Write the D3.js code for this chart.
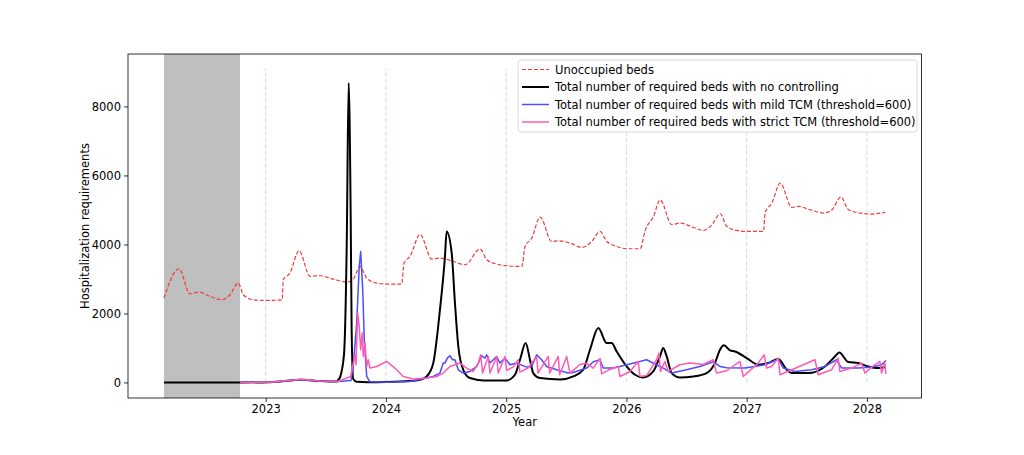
<!DOCTYPE html>
<html>
<head>
<meta charset="utf-8">
<script src="https://cdn.jsdelivr.net/npm/d3@7"></script>
<style>
  html, body { margin: 0; padding: 0; background: #fff; }
  svg { display: block; }
  text { font-family: "DejaVu Sans", sans-serif; }
</style>
</head>
<body>
<svg id="chart" width="1024" height="455"></svg>
<script>
// ---------------- DATA ([decimal year, value]) ----------------
const seriesNames = [
  "Unoccupied beds",
  "Total number of required beds with no controlling",
  "Total number of required beds with mild TCM (threshold=600)",
  "Total number of required beds with strict TCM (threshold=600)"
];
const xTickYears = [2023, 2024, 2025, 2026, 2027, 2028];
const yTickValues = [0, 2000, 4000, 6000, 8000];
const shadedPeriod = [2022.154, 2022.786];
const vlineRange = [0, 9100];

const unoccupied = [
  [2022.154,2446],[2022.279,3296],[2022.370,2571],[2022.445,2620],[2022.537,2493],
  [2022.634,2397],[2022.703,2542],[2022.772,2881],[2022.814,2542],[2022.897,2397],
  [2023.008,2377],[2023.138,2397],[2023.146,2977],[2023.202,3171],[2023.277,3817],
  [2023.369,3072],[2023.438,3101],[2023.562,2997],[2023.674,2910],[2023.729,2997],
  [2023.785,3362],[2023.840,3026],[2023.923,2881],[2024.007,2852],[2024.131,2852],
  [2024.151,3461],[2024.200,3652],[2024.284,4290],[2024.381,3577],[2024.450,3606],
  [2024.561,3507],[2024.658,3412],[2024.783,3867],[2024.839,3557],[2024.922,3432],
  [2025.005,3383],[2025.130,3362],[2025.157,3942],[2025.213,4186],[2025.282,4794],
  [2025.379,4087],[2025.434,4107],[2025.532,4041],[2025.629,3913],[2025.712,4087],
  [2025.781,4377],[2025.837,4087],[2025.920,3942],[2026.003,3875],[2026.114,3875],
  [2026.156,4406],[2026.225,4812],[2026.280,5290],[2026.378,4571],[2026.447,4620],
  [2026.557,4493],[2026.641,4406],[2026.711,4571],[2026.780,4890],[2026.835,4522],
  [2026.918,4406],[2027.002,4377],[2027.140,4377],[2027.154,4928],[2027.210,5200],
  [2027.279,5780],[2027.376,5072],[2027.431,5101],[2027.528,5006],[2027.639,4910],
  [2027.709,5006],[2027.784,5374],[2027.847,5006],[2027.945,4910],[2028.028,4881],
  [2028.152,4928]
];

const noControl = [
  [2022.154,0],[2022.786,0],[2023.036,10],[2023.299,80],[2023.452,40],[2023.590,25],
  [2023.604,78],[2023.618,150],[2023.651,800],[2023.674,4000],[2023.690,8678],
  [2023.707,4800],[2023.715,1500],[2023.728,100],[2023.757,20],[2023.850,10],
  [2024.000,15],[2024.200,40],[2024.283,78],[2024.339,174],[2024.394,562],
  [2024.422,1238],[2024.449,2100],[2024.491,3652],[2024.505,4377],[2024.547,3751],
  [2024.574,2301],[2024.602,1043],[2024.643,368],[2024.699,128],[2024.810,58],
  [2025.004,58],[2025.073,223],[2025.115,658],[2025.162,1142],[2025.198,658],
  [2025.225,272],[2025.281,128],[2025.450,85],[2025.558,174],[2025.641,368],
  [2025.697,948],[2025.766,1577],[2025.836,1142],[2025.877,1142],[2025.919,899],
  [2026.002,464],[2026.071,223],[2026.140,145],[2026.223,319],[2026.279,754],
  [2026.306,997],[2026.335,754],[2026.376,272],[2026.445,145],[2026.556,174],
  [2026.667,272],[2026.736,562],[2026.778,948],[2026.811,1080],[2026.861,930],
  [2026.903,899],[2027.000,707],[2027.096,513],[2027.180,562],[2027.263,678],
  [2027.333,368],[2027.374,272],[2027.512,272],[2027.651,464],[2027.734,754],
  [2027.770,870],[2027.845,591],[2027.928,562],[2028.011,464],[2028.094,417],
  [2028.158,446]
];

const mildTCM = [
  [2022.786,0],[2023.036,10],[2023.299,80],[2023.452,40],[2023.600,30],[2023.710,60],
  [2023.728,464],[2023.757,1722],[2023.778,3362],[2023.790,3797],[2023.807,2687],
  [2023.820,1238],[2023.840,174],[2023.867,20],[2024.000,10],[2024.200,30],
  [2024.394,174],[2024.449,272],[2024.477,562],[2024.491,562],[2024.510,707],
  [2024.532,774],[2024.554,658],[2024.574,658],[2024.602,368],[2024.643,272],
  [2024.699,319],[2024.755,464],[2024.797,774],[2024.824,707],[2024.838,803],
  [2024.865,562],[2024.893,658],[2024.921,754],[2024.948,562],[2024.990,707],
  [2025.032,513],[2025.087,562],[2025.170,446],[2025.212,464],[2025.254,803],
  [2025.295,658],[2025.337,464],[2025.420,368],[2025.516,272],[2025.558,290],
  [2025.669,417],[2025.725,600],[2025.780,658],[2025.807,417],[2025.891,417],
  [2025.946,464],[2026.002,513],[2026.113,609],[2026.168,658],[2026.251,513],
  [2026.306,417],[2026.376,272],[2026.500,368],[2026.611,464],[2026.722,600],
  [2026.778,464],[2026.834,430],[2026.986,417],[2027.152,513],[2027.263,678],
  [2027.305,417],[2027.402,319],[2027.541,368],[2027.651,464],[2027.748,658],
  [2027.790,417],[2027.928,417],[2028.040,446],[2028.123,513],[2028.158,638]
];

const strictTCM = [
  [2022.786,0],[2023.036,10],[2023.299,90],[2023.452,40],[2023.600,30],
  [2023.707,174],[2023.728,562],[2023.743,803],[2023.751,513],[2023.765,2011],
  [2023.778,1623],[2023.790,948],[2023.803,1432],[2023.812,754],[2023.826,1142],
  [2023.840,464],[2023.853,658],[2023.867,417],[2023.923,464],[2024.006,609],
  [2024.075,417],[2024.144,174],[2024.227,98],[2024.339,128],[2024.422,174],
  [2024.477,272],[2024.532,464],[2024.616,562],[2024.671,417],[2024.726,319],
  [2024.768,562],[2024.788,803],[2024.804,272],[2024.851,754],[2024.865,272],
  [2024.921,754],[2024.934,272],[2024.990,754],[2025.004,350],[2025.059,450],
  [2025.101,658],[2025.115,300],[2025.181,420],[2025.254,754],[2025.265,272],
  [2025.350,754],[2025.362,272],[2025.433,754],[2025.445,223],[2025.503,754],
  [2025.531,272],[2025.614,520],[2025.669,560],[2025.725,417],[2025.780,700],
  [2025.794,250],[2025.849,360],[2025.932,464],[2025.946,174],[2026.029,319],
  [2026.098,609],[2026.113,174],[2026.168,200],[2026.251,658],[2026.270,850],
  [2026.283,319],[2026.320,609],[2026.347,319],[2026.445,513],[2026.528,562],
  [2026.639,520],[2026.722,658],[2026.750,272],[2026.834,340],[2026.944,609],
  [2026.972,174],[2027.096,562],[2027.146,803],[2027.166,417],[2027.207,464],
  [2027.263,707],[2027.277,223],[2027.374,368],[2027.568,658],[2027.595,223],
  [2027.706,368],[2027.761,707],[2027.775,319],[2027.872,417],[2027.955,562],
  [2027.983,272],[2028.038,446],[2028.108,609],[2028.122,272],[2028.149,562],
  [2028.158,250]
];

// ---------------- LAYOUT ----------------
const svg = d3.select("#chart");
const L = 128, R = 921.5, T = 54, B = 398;
const FS = 11.5;

const x = d3.scaleLinear().domain([2021.855, 2028.454]).range([L, R]);
const y = d3.scaleLinear().domain([-450, 9520]).range([B, T]);

svg.append("defs").append("clipPath").attr("id", "clip")
  .append("rect").attr("x", L).attr("y", T).attr("width", R - L).attr("height", B - T);

const plot = svg.append("g").attr("clip-path", "url(#clip)");

// shaded period
plot.append("rect")
  .attr("x", x(shadedPeriod[0])).attr("y", T)
  .attr("width", x(shadedPeriod[1]) - x(shadedPeriod[0]))
  .attr("height", B - T)
  .attr("fill", "#bfbfbf");

// year vertical dashed lines
plot.selectAll("line.vl").data(xTickYears).join("line")
  .attr("class", "vl")
  .attr("x1", d => x(d)).attr("x2", d => x(d))
  .attr("y1", y(vlineRange[0])).attr("y2", y(vlineRange[1]))
  .attr("stroke", "#add8e6").attr("stroke-opacity", 0.75).attr("stroke-width", 1)
  .attr("stroke-dasharray", "4.5,2");

const smooth = d3.line().x(d => x(d[0])).y(d => y(d[1])).curve(d3.curveMonotoneX);
const straight = d3.line().x(d => x(d[0])).y(d => y(d[1]));

const styles = [
  { data: unoccupied, color: "#ee3b3b", width: 1.2, dash: "4,2", gen: smooth },
  { data: noControl, color: "#000000", width: 2, dash: null, gen: smooth },
  { data: mildTCM, color: "#4d4dff", width: 1.5, dash: null, gen: straight },
  { data: strictTCM, color: "#ff5ab3", width: 1.5, dash: null, gen: straight }
];

styles.forEach(s => {
  plot.append("path")
    .datum(s.data)
    .attr("d", s.gen)
    .attr("fill", "none")
    .attr("stroke", s.color)
    .attr("stroke-width", s.width)
    .attr("stroke-linejoin", "round")
    .attr("stroke-dasharray", s.dash);
});

// axes
const xAxis = d3.axisBottom(x).tickValues(xTickYears).tickFormat(d3.format("d"))
  .tickSize(4).tickSizeOuter(0).tickPadding(3);
const yAxis = d3.axisLeft(y).tickValues(yTickValues).tickFormat(d3.format("d"))
  .tickSize(4).tickSizeOuter(0).tickPadding(3);

const gx = svg.append("g").attr("transform", `translate(0,${B})`).call(xAxis);
const gy = svg.append("g").attr("transform", `translate(${L},0)`).call(yAxis);
[gx, gy].forEach(g => {
  g.select(".domain").remove();
  g.selectAll("text").attr("font-size", FS).attr("fill", "#000")
    .attr("font-family", "DejaVu Sans, sans-serif");
  g.selectAll("line").attr("stroke", "#000").attr("stroke-width", 0.8);
});

// frame
svg.append("rect").attr("x", L).attr("y", T).attr("width", R - L).attr("height", B - T)
  .attr("fill", "none").attr("stroke", "#000").attr("stroke-width", 0.8);

// axis labels
svg.append("text").attr("x", (L + R) / 2).attr("y", 426)
  .attr("text-anchor", "middle").attr("font-size", FS).text("Year");
svg.append("text")
  .attr("transform", `translate(85,${(T + B) / 2}) rotate(-90)`)
  .attr("text-anchor", "middle").attr("dominant-baseline", "central")
  .attr("font-size", FS).text("Hospitalization requirements");

// legend
const lg = svg.append("g");
lg.append("rect").attr("x", 518).attr("y", 60).attr("width", 399).attr("height", 72)
  .attr("rx", 3).attr("fill", "#fff").attr("fill-opacity", 0.8)
  .attr("stroke", "#d0d0d0").attr("stroke-width", 0.8);
const rowY = [68.5, 86, 103.5, 121];
styles.forEach((s, i) => {
  lg.append("line").attr("x1", 522).attr("x2", 549)
    .attr("y1", rowY[i] + 1).attr("y2", rowY[i] + 1)
    .attr("stroke", s.color).attr("stroke-width", s.width)
    .attr("stroke-dasharray", s.dash);
  lg.append("text").attr("x", 555).attr("y", rowY[i] + 1)
    .attr("dominant-baseline", "central").attr("font-size", FS)
    .text(seriesNames[i]);
});
</script>
</body>
</html>
